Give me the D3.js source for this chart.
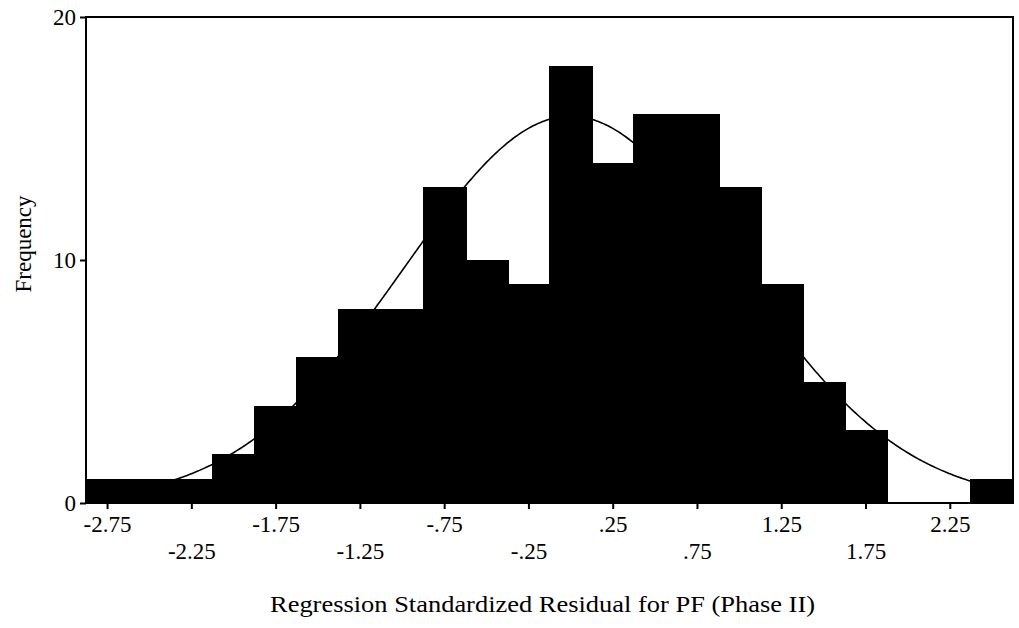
<!DOCTYPE html>
<html>
<head>
<meta charset="utf-8">
<style>
  body { margin: 0; background: #fff; }
  text { font-family: "Liberation Serif", "Times New Roman", serif; fill: #000; }
</style>
</head>
<body>
<svg width="1019" height="628"></svg>
<script src="https://cdn.jsdelivr.net/npm/d3@7"></script>
<script>

// histogram bins (centre of each bin) and counts
var binCenters = [-2.75, -2.5, -2.25, -2.0, -1.75, -1.5, -1.25, -1.0, -0.75, -0.5, -0.25,
                  0.0, 0.25, 0.5, 0.75, 1.0, 1.25, 1.5, 1.75, 2.0, 2.25, 2.5];
var frequencies = [1, 1, 1, 2, 4, 6, 8, 8, 13, 10, 9,
                   18, 14, 16, 16, 13, 9, 5, 3, 0, 0, 1];
var binWidth = 0.25;

// x tick positions and labels (labels alternate between two rows)
var tickValues = [-2.75, -2.25, -1.75, -1.25, -0.75, -0.25, 0.25, 0.75, 1.25, 1.75, 2.25];
var tickLabels = ["-2.75", "-2.25", "-1.75", "-1.25", "-.75", "-.25", ".25", ".75", "1.25", "1.75", "2.25"];
var yTicks = [0, 10, 20];

// fitted normal curve
var curveMean = 0.0, curveSd = 0.99, curveN = 158;

var svg = d3.select("svg");
var plotLeft = 86, plotRight = 1013, plotTop = 17, plotBottom = 503;

var x = d3.scaleLinear().domain([-2.875, 2.625]).range([plotLeft, plotRight]);
var y = d3.scaleLinear().domain([0, 20]).range([plotBottom, plotTop]);

// bars
svg.append("g")
    .attr("shape-rendering", "crispEdges")
  .selectAll("rect")
  .data(binCenters)
  .enter().append("rect")
    .attr("x", function(d) { return Math.floor(x(d - binWidth / 2)); })
    .attr("y", function(d, i) { return y(frequencies[i]); })
    .attr("width", function(d) { return Math.ceil(x(d + binWidth / 2)) - Math.floor(x(d - binWidth / 2)) + 1; })
    .attr("height", function(d, i) { return y(0) - y(frequencies[i]); })
    .attr("fill", "#000");

// normal curve
var xs = d3.range(-2.875, 2.6251, 0.01);
var line = d3.line()
    .x(function(d) { return x(d); })
    .y(function(d) {
      var z = (d - curveMean) / curveSd;
      return y(curveN * binWidth * Math.exp(-0.5 * z * z) / (curveSd * Math.sqrt(2 * Math.PI)));
    });

svg.append("path")
    .datum(xs)
    .attr("d", line)
    .attr("fill", "none")
    .attr("stroke", "#000")
    .attr("stroke-width", 1.6);

// frame
svg.append("rect")
    .attr("x", plotLeft).attr("y", plotTop)
    .attr("width", plotRight - plotLeft).attr("height", plotBottom - plotTop)
    .attr("fill", "none")
    .attr("stroke", "#000")
    .attr("stroke-width", 2);

// x axis
var xAxis = svg.append("g")
    .attr("transform", "translate(0," + plotBottom + ")")
    .call(d3.axisBottom(x)
      .tickValues(tickValues)
      .tickSize(6)
      .tickFormat(function(d, i) { return tickLabels[i]; }));
xAxis.select(".domain").remove();
xAxis.selectAll(".tick line").attr("stroke", "#000").attr("stroke-width", 2);
xAxis.selectAll(".tick text")
    .attr("font-size", 23)
    .attr("font-family", "Liberation Serif")
    .attr("dy", null)
    .attr("y", function(d, i) { return i % 2 === 0 ? 29 : 56; });

// y axis
var yAxis = svg.append("g")
    .attr("transform", "translate(" + plotLeft + ",0)")
    .call(d3.axisLeft(y).tickValues(yTicks).tickSize(6).tickPadding(4));
yAxis.select(".domain").remove();
yAxis.selectAll(".tick line").attr("stroke", "#000").attr("stroke-width", 2);
yAxis.selectAll(".tick text")
    .attr("font-size", 23)
    .attr("font-family", "Liberation Serif");

// axis titles
svg.append("text")
    .attr("x", 270)
    .attr("y", 612)
    .attr("font-size", 23)
    .attr("textLength", 545)
    .attr("lengthAdjust", "spacingAndGlyphs")
    .text("Regression Standardized Residual for PF (Phase II)");

svg.append("text")
    .attr("transform", "translate(31," + 244 + ") rotate(-90)")
    .attr("text-anchor", "middle")
    .attr("font-size", 23)
    .text("Frequency");

</script>
</body>
</html>
